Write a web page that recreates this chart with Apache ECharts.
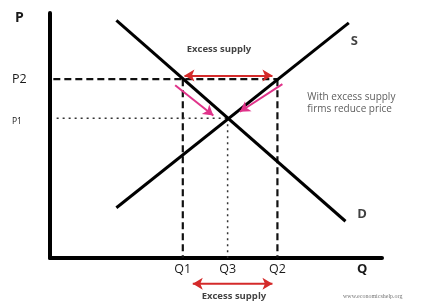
<!DOCTYPE html>
<html>
<head>
<meta charset="utf-8">
<script src="https://cdn.jsdelivr.net/npm/echarts@6/dist/echarts.min.js"></script>
<style>
  html, body { margin: 0; padding: 0; background: #fff; }
  #main { width: 425px; height: 301px; }
</style>
</head>
<body>
<div id="main"></div>
<script>
// quantity / price levels
var qValues = [4, 5.35, 6.85, 9.4];
var qNames = ['Q1', 'Q3', 'Q2', 'Q'];
var pValues = [5.55, 7.3, 9.8];
var pNames = ['P1', 'P2', 'P'];

// curves
var demand = [[2, 9.7], [8.9, 1.5]];
var supply = [[2, 2.05], [9, 9.6]];

// guide lines
var p2Dash = [[0.1, 7.3], [6.85, 7.3]];
var q1Dash = [[4, 7.3], [4, 0]];
var q2Dash = [[6.85, 7.3], [6.85, 0]];
var p1Dot = [[0.2, 5.7], [5.35, 5.7]];
var q3Dot = [[5.35, 5.7], [5.35, 0]];

// arrows
var topArrow = [[4.05, 7.45], [6.7, 7.45]];
var bottomArrow = [[4.3, -1.05], [6.7, -1.05]];
var leftPink = [[3.77, 7.05], [4.92, 5.82]];
var rightPink = [[7.0, 7.1], [5.72, 5.97]];

// text annotations
var notes = [
  { value: [5.09, 8.5], text: 'Excess supply', kind: 'bold' },
  { value: [5.54, -1.55], text: 'Excess supply', kind: 'bold' },
  { value: [7.75, 6.33], text: 'With excess supply\nfirms reduce price', kind: 'note' },
  { value: [9.17, 8.85], text: 'S', kind: 'curve' },
  { value: [9.4, 1.8], text: 'D', kind: 'curve' }
];

var font = '"Open Sans", Lato, sans-serif';

function lineSeries(data, color, width, type) {
  return {
    type: 'line',
    data: data,
    symbol: 'none',
    silent: true,
    clip: false,
    lineStyle: { color: color, width: width, type: type }
  };
}

function arrowSeries(pts, color, both) {
  return {
    type: 'line',
    data: [],
    silent: true,
    clip: false,
    markLine: {
      silent: true,
      symbol: both ? ['arrow', 'arrow'] : ['none', 'arrow'],
      symbolSize: [9, 10],
      label: { show: false },
      lineStyle: { color: color, width: 2, type: 'solid' },
      data: [[{ coord: pts[0] }, { coord: pts[1] }]]
    }
  };
}

// horizontal double arrow drawn with end symbols (works below the axis)
function flatArrow(pts, color) {
  return {
    type: 'line',
    silent: true,
    clip: false,
    symbolSize: [9, 10],
    itemStyle: { color: color },
    lineStyle: { color: color, width: 2 },
    data: [
      { value: pts[0], symbol: 'arrow', symbolRotate: 90 },
      { value: pts[1], symbol: 'arrow', symbolRotate: -90 }
    ]
  };
}

function nameFor(list, names, v) {
  for (var i = 0; i < list.length; i++) {
    if (Math.abs(list[i] - v) < 1e-6) return names[i];
  }
  return '';
}

var myChart = echarts.init(document.getElementById('main'));

var option = {
  animation: false,
  backgroundColor: '#fff',
  textStyle: { fontFamily: font },
  grid: { left: 50, right: 43, top: 13, bottom: 43 },
  xAxis: {
    type: 'value',
    min: 0,
    max: 10,
    splitLine: { show: false },
    axisTick: { show: false },
    axisLine: { lineStyle: { color: '#000', width: 4 } },
    axisLabel: {
      customValues: qValues,
      margin: 5,
      formatter: function (v) {
        var n = nameFor(qValues, qNames, v);
        return n === 'Q' ? '{b|Q}' : '{n|' + n + '}';
      },
      rich: {
        n: { fontSize: 12.5, color: '#1a1a1a', fontFamily: font },
        b: { fontSize: 13, fontWeight: 'bold', color: '#1a1a1a', fontFamily: font }
      }
    }
  },
  yAxis: {
    type: 'value',
    min: 0,
    max: 10,
    splitLine: { show: false },
    axisTick: { show: false },
    axisLine: { lineStyle: { color: '#000', width: 4 } },
    axisLabel: {
      customValues: pValues,
      margin: 38,
      align: 'left',
      formatter: function (v) {
        var n = nameFor(pValues, pNames, v);
        if (n === 'P') return '{b|P}';
        if (n === 'P1') return '{s|P1}';
        return '{n|' + n + '}';
      },
      rich: {
        n: { fontSize: 12.5, color: '#1a1a1a', fontFamily: font },
        s: { fontSize: 8.5, color: '#1a1a1a', fontFamily: font },
        b: { fontSize: 14, fontWeight: 'bold', color: '#1a1a1a', fontFamily: font, padding: [0, 0, 0, 3] }
      }
    }
  },
  series: [
    lineSeries(p2Dash, '#111', 2.2, [7, 4]),
    lineSeries(q1Dash, '#111', 2.2, [7, 4]),
    lineSeries(q2Dash, '#111', 2.2, [7, 4]),
    lineSeries(p1Dot, '#333', 1.5, [2, 4]),
    lineSeries(q3Dot, '#333', 1.5, [2, 4]),
    lineSeries(demand, '#000', 3, 'solid'),
    lineSeries(supply, '#000', 3, 'solid'),
    arrowSeries(topArrow, '#d42a2a', true),
    flatArrow(bottomArrow, '#d42a2a'),
    arrowSeries(leftPink, '#e0338a', false),
    arrowSeries(rightPink, '#e0338a', false),
    {
      type: 'scatter',
      symbol: 'circle',
      symbolSize: 1,
      itemStyle: { color: 'rgba(0,0,0,0)' },
      silent: true,
      clip: false,
      data: notes.map(function (d) {
        var lbl;
        if (d.kind === 'bold') {
          lbl = { fontSize: 9.5, fontWeight: 'bold', color: '#111', align: 'center' };
        } else if (d.kind === 'note') {
          lbl = { fontSize: 10, color: '#333', align: 'left', lineHeight: 12 };
        } else {
          lbl = { fontSize: 13, fontWeight: 'bold', color: '#111', align: 'center' };
        }
        lbl.show = true;
        lbl.position = 'inside';
        lbl.verticalAlign = 'middle';
        lbl.fontFamily = font;
        lbl.formatter = d.text;
        return { value: d.value, label: lbl };
      })
    }
  ],
  graphic: [
    {
      type: 'text',
      left: 343,
      top: 293,
      style: { text: 'www.economicshelp.org', fontSize: 6, fill: '#777', fontFamily: 'serif' }
    }
  ]
};

myChart.setOption(option);
</script>
</body>
</html>
